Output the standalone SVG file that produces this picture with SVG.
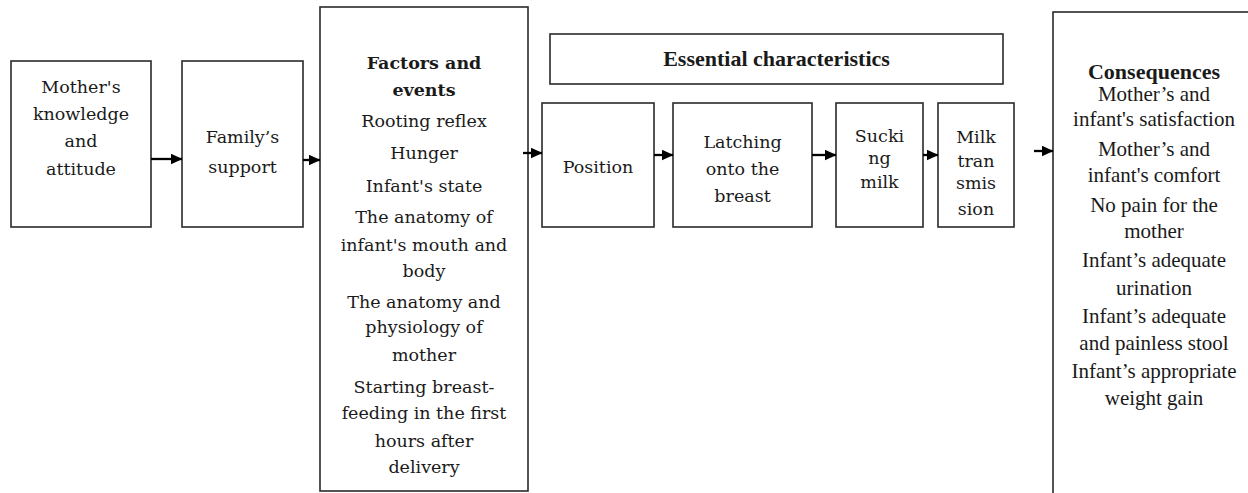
<svg xmlns="http://www.w3.org/2000/svg" width="1248" height="493" viewBox="0 0 1248 493">
<defs>
<style>
.box{fill:#fff;stroke:#2a2a2a;stroke-width:1.6}
.c{font-family:"DejaVu Serif","Liberation Serif",serif;font-size:17.5px;fill:#1a1a1a;text-anchor:middle}
.cb{font-family:"DejaVu Serif","Liberation Serif",serif;font-size:17.5px;font-weight:bold;fill:#1a1a1a;text-anchor:middle}
.t{font-family:"Liberation Serif","Times New Roman",serif;font-size:21px;fill:#1a1a1a;text-anchor:middle}
.tb{font-family:"Liberation Serif","Times New Roman",serif;font-size:22px;font-weight:bold;fill:#1a1a1a;text-anchor:middle}
.arr{stroke:#000;stroke-width:2.3;fill:none;marker-end:url(#ah)}
</style>
<marker id="ah" markerWidth="12" markerHeight="11" refX="11.5" refY="5.5" orient="auto" markerUnits="userSpaceOnUse">
<path d="M0,0 L12,5.5 L0,11 Z" fill="#000"/>
</marker>
</defs>
<rect width="1248" height="493" fill="#fff"/>
<g id="n-knowledge">
<rect class="box" x="11" y="61" width="140" height="166"/>
<text class="c" x="81" y="93">Mother's</text>
<text class="c" x="81" y="120">knowledge</text>
<text class="c" x="81" y="147">and</text>
<text class="c" x="81" y="175">attitude</text>
</g>
<g id="n-family">
<rect class="box" x="182" y="61" width="121" height="166"/>
<text class="c" x="242.5" y="143">Family’s</text>
<text class="c" x="242.5" y="173">support</text>
</g>
<g id="n-factors">
<rect class="box" x="320" y="7" width="208" height="484"/>
<text class="cb" x="424" y="69">Factors and</text>
<text class="cb" x="424" y="96">events</text>
<text class="c" x="424" y="127">Rooting reflex</text>
<text class="c" x="424" y="159">Hunger</text>
<text class="c" x="424" y="192">Infant's state</text>
<text class="c" x="424" y="223">The anatomy of</text>
<text class="c" x="424" y="251">infant's mouth and</text>
<text class="c" x="424" y="277">body</text>
<text class="c" x="424" y="308">The anatomy and</text>
<text class="c" x="424" y="333">physiology of</text>
<text class="c" x="424" y="361">mother</text>
<text class="c" x="424" y="393">Starting breast-</text>
<text class="c" x="424" y="419">feeding in the first</text>
<text class="c" x="424" y="447">hours after</text>
<text class="c" x="424" y="473">delivery</text>
</g>
<g id="n-essential">
<rect class="box" x="550" y="34" width="453" height="50"/>
<text class="tb" x="776.5" y="66">Essential characteristics</text>
</g>
<g id="n-position">
<rect class="box" x="542" y="103" width="112" height="124"/>
<text class="c" x="598" y="173">Position</text>
</g>
<g id="n-latching">
<rect class="box" x="673" y="103" width="139" height="124"/>
<text class="c" x="742.5" y="148">Latching</text>
<text class="c" x="742.5" y="175">onto the</text>
<text class="c" x="742.5" y="202">breast</text>
</g>
<g id="n-sucking">
<rect class="box" x="836" y="103" width="87" height="124"/>
<text class="c" x="879.5" y="142">Sucki</text>
<text class="c" x="879.5" y="164">ng</text>
<text class="c" x="879.5" y="188">milk</text>
</g>
<g id="n-milk">
<rect class="box" x="938" y="103" width="76" height="124"/>
<text class="c" x="976" y="143">Milk</text>
<text class="c" x="976" y="167">tran</text>
<text class="c" x="976" y="189">smis</text>
<text class="c" x="976" y="215">sion</text>
</g>
<g id="n-consequences">
<rect class="box" x="1053" y="12" width="250" height="500"/>
<text class="tb" x="1154" y="79">Consequences</text>
<text class="t" x="1154" y="101">Mother’s and</text>
<text class="t" x="1154" y="126">infant's satisfaction</text>
<text class="t" x="1154" y="156">Mother’s and</text>
<text class="t" x="1154" y="182">infant's comfort</text>
<text class="t" x="1154" y="212">No pain for the</text>
<text class="t" x="1154" y="238">mother</text>
<text class="t" x="1154" y="267">Infant’s adequate</text>
<text class="t" x="1154" y="295">urination</text>
<text class="t" x="1154" y="323">Infant’s adequate</text>
<text class="t" x="1154" y="350">and painless stool</text>
<text class="t" x="1154" y="378">Infant’s appropriate</text>
<text class="t" x="1154" y="405">weight gain</text>
</g>
<g id="connectors">
<line class="arr" x1="151" y1="159" x2="182" y2="159"/>
<line class="arr" x1="303" y1="160" x2="320" y2="160"/>
<line class="arr" x1="523" y1="153" x2="542" y2="153"/>
<line class="arr" x1="654" y1="155" x2="673" y2="155"/>
<line class="arr" x1="812" y1="155" x2="836" y2="155"/>
<line class="arr" x1="923" y1="155" x2="938" y2="155"/>
<line class="arr" x1="1034" y1="151" x2="1053" y2="151"/>
</g>
</svg>
